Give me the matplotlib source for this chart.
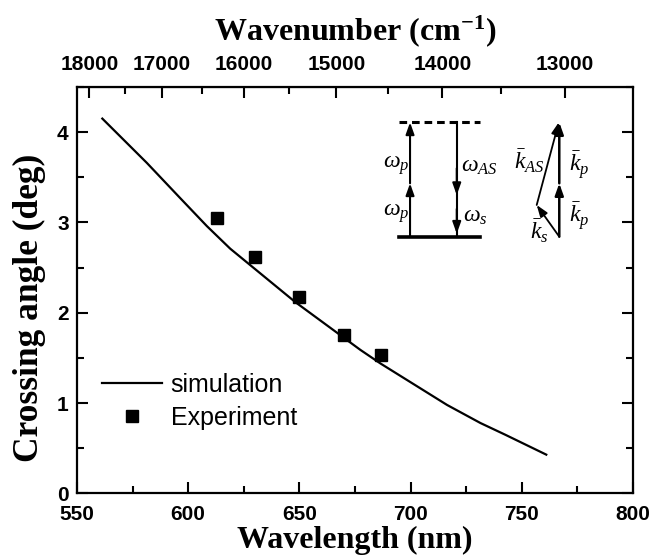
import numpy as np
import matplotlib
matplotlib.use('Agg')
import matplotlib.pyplot as plt
from matplotlib.ticker import MultipleLocator, FixedLocator

plt.rcParams['mathtext.fontset'] = 'custom'
plt.rcParams['mathtext.rm'] = 'Liberation Serif'
plt.rcParams['mathtext.it'] = 'Liberation Serif:italic'
plt.rcParams['mathtext.bf'] = 'Liberation Serif:bold'

# simulated crossing angle vs wavelength
wl_sim = [561.4, 581.4, 596.4, 608.4, 618.9, 648.1, 677.4, 686.4, 716.4, 731.4, 742.6, 761.0]
angle_sim = [4.15, 3.66, 3.27, 2.96, 2.71, 2.12, 1.59, 1.44, 0.98, 0.78, 0.65, 0.43]

# measured points
wl_exp = [612.9, 630.1, 649.9, 669.9, 686.8]
angle_exp = [3.05, 2.62, 2.18, 1.755, 1.53]

x_ticks = [550, 600, 650, 700, 750, 800]
y_ticks = [0, 1, 2, 3, 4]
wn_ticks = [18000, 17000, 16000, 15000, 14000, 13000]
wn_minor = [17500, 16500, 15500, 14500, 13500]

tick_font = dict(family='Liberation Sans', weight='bold', size=15)
label_font = dict(family='Liberation Serif', weight='bold', size=23)

fig = plt.figure(figsize=(6.54, 5.59), dpi=100)
ax = fig.add_axes([0.1177, 0.1172, 0.8502, 0.7272])

ax.plot(wl_sim, angle_sim, color='black', lw=1.6, label='simulation')
ax.plot(wl_exp, angle_exp, 's', color='black', ms=9, label='Experiment')

ax.set_xlim(550, 800)
ax.set_ylim(0, 4.5)
ax.set_xticks(x_ticks)
ax.set_yticks(y_ticks)
ax.xaxis.set_minor_locator(MultipleLocator(25))
ax.yaxis.set_minor_locator(MultipleLocator(0.5))
ax.tick_params(which='both', direction='in', top=False, right=True, width=1.5)
ax.tick_params(which='major', length=8)
ax.tick_params(which='minor', length=5)
ax.tick_params(axis='x', pad=8)
ax.tick_params(axis='y', pad=6)
for lab in ax.get_xticklabels() + ax.get_yticklabels():
    lab.set(**tick_font)
for s in ax.spines.values():
    s.set_linewidth(1.6)

ax.set_xlabel('Wavelength (nm)', labelpad=2, **label_font)
ax.set_ylabel('Crossing angle (deg)', family='Liberation Serif', weight='bold', size=25.5)
ax.yaxis.set_label_coords(-0.055, 0.456)

# wavenumber axis on top
sec = ax.secondary_xaxis('top', functions=(lambda x: 1e7 / x, lambda x: 1e7 / x))
sec.set_xticks(wn_ticks)
sec.xaxis.set_minor_locator(FixedLocator(wn_minor))
sec.tick_params(which='both', direction='in', width=1.5, pad=9)
sec.tick_params(which='major', length=8)
sec.tick_params(which='minor', length=5)
for lab in sec.get_xticklabels():
    lab.set(**tick_font)
sec.set_xlabel(r'Wavenumber (cm$^{\mathbf{-1}}$)', labelpad=11, **label_font)

ax.legend(loc='upper left', bbox_to_anchor=(0.045, 0.296), frameon=False,
          prop=dict(family='Liberation Sans', size=18), handlelength=2.4,
          handletextpad=0.35, labelspacing=0.36, borderpad=0, borderaxespad=0)

# inset: energy level scheme and wave-vector triangle (axes fractions)
T = ax.transAxes
head = dict(arrowstyle='-|>,head_length=0.7,head_width=0.25', color='black',
            shrinkA=0, shrinkB=0, mutation_scale=10)


def arrow(p0, p1, lw=1.5):
    ax.annotate('', xy=p1, xytext=p0, xycoords='axes fraction',
                arrowprops=dict(lw=lw, **head))


level_x = [0.580, 0.724]
ax.plot(level_x, [0.9146, 0.9146], color='black', lw=2.2, dashes=(2.5, 1.6), transform=T)
ax.plot(level_x, [0.6317, 0.6317], color='black', lw=2.6, transform=T)

arrow((0.599, 0.6317), (0.599, 0.763))
arrow((0.599, 0.763), (0.599, 0.913))
ax.plot([0.683, 0.683], [0.9146, 0.6317], color='black', lw=1.5, transform=T)
arrow((0.683, 0.80), (0.683, 0.734))
arrow((0.683, 0.70), (0.683, 0.639))

sym = dict(transform=T, fontsize=17, ha='center', va='center')
ax.text(0.575, 0.808, r'$\omega_p$', **sym)
ax.text(0.575, 0.689, r'$\omega_p$', **sym)
ax.text(0.724, 0.808, r'$\omega_{AS}$', **sym)
ax.text(0.716, 0.685, r'$\omega_s$', **sym)

arrow((0.8674, 0.6317), (0.8674, 0.763), lw=1.8)
arrow((0.8674, 0.763), (0.8674, 0.913), lw=1.8)
arrow((0.8674, 0.6317), (0.8268, 0.7097), lw=1.3)
arrow((0.8268, 0.7097), (0.8665, 0.913), lw=1.3)

ax.text(0.813, 0.816, r'$\bar{k}_{AS}$', **sym)
ax.text(0.904, 0.808, r'$\bar{k}_p$', **sym)
ax.text(0.904, 0.681, r'$\bar{k}_p$', **sym)
ax.text(0.832, 0.644, r'$\bar{k}_s$', **sym)

fig.savefig('out.png', dpi=100)
